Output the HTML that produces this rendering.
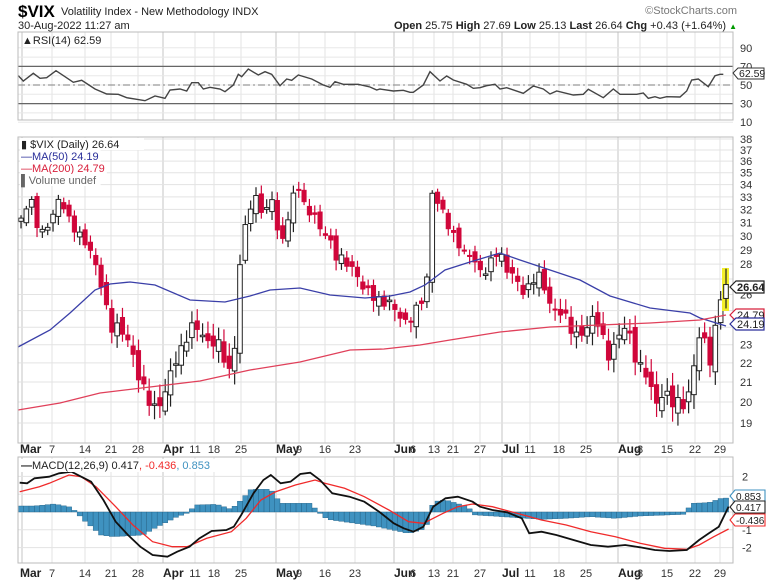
<!DOCTYPE html>
<html><head><meta charset="utf-8"><style>
body{margin:0;background:#fff;}
svg{display:block;font-family:"Liberation Sans",sans-serif;}
</style></head><body>
<svg id="s" width="768" height="583" viewBox="0 0 768 583" xmlns="http://www.w3.org/2000/svg">
<rect width="768" height="583" fill="#fff"/>
<g id="grid"></g>
<g id="content"></g>
<text x="18" y="17" font-size="17" font-weight="bold" fill="#000">$VIX</text>
<text x="61" y="15" font-size="11" fill="#222">Volatility Index - New Methodology  INDX</text>
<text x="737" y="14" font-size="11" fill="#777" text-anchor="end">©StockCharts.com</text>
<text x="18" y="29" font-size="11" fill="#222">30-Aug-2022 11:27 am</text>
<text x="737" y="29" font-size="11" fill="#222" text-anchor="end"><tspan font-weight="bold">Open</tspan> 25.75 <tspan font-weight="bold">High</tspan> 27.69 <tspan font-weight="bold">Low</tspan> 25.13 <tspan font-weight="bold">Last</tspan> 26.64 <tspan font-weight="bold">Chg</tspan> +0.43 (+1.64%) <tspan fill="#090" font-size="8">▲</tspan></text>
</svg>
<script>
(function(){
var NS="http://www.w3.org/2000/svg",g=document.getElementById('grid'),c=document.getElementById('content');
function el(p,t,a,txt){var e=document.createElementNS(NS,t);for(var k in a)e.setAttribute(k,a[k]);if(txt!=null)e.textContent=txt;p.appendChild(e);return e;}
function interp(pts,x){if(x<=pts[0][0])return pts[0][1];for(var i=1;i<pts.length;i++){if(x<=pts[i][0]){var a=pts[i-1],b=pts[i];return a[1]+(b[1]-a[1])*(x-a[0])/(b[0]-a[0]);}}return pts[pts.length-1][1];}
function poly(pts){return pts.map(function(p){return p[0].toFixed(1)+","+p[1].toFixed(1)}).join(" ");}
var L=18,R=733;
var panels=[[32,120],[137,443],[457,563]];
var weeks=[[52,'7'],[85,'14'],[111,'21'],[138,'28'],[195,'11'],[214,'18'],[241,'25'],[299,'9'],[325,'16'],[355,'23'],[413,'6'],[434,'13'],[453,'21'],[480,'27'],[530,'11'],[559,'18'],[586,'25'],[640,'8'],[667,'15'],[695,'22'],[720,'29']];
var months=[[22,'Mar'],[163,'Apr'],[276,'May'],[394,'Jun'],[502,'Jul'],[618,'Aug']];
panels.forEach(function(p){
 weeks.forEach(function(w){el(g,'line',{x1:w[0],x2:w[0],y1:p[0],y2:p[1],stroke:'#e3e3e3','stroke-width':1});});
 months.forEach(function(w){el(g,'line',{x1:w[0],x2:w[0],y1:p[0],y2:p[1],stroke:'#c4c4c4','stroke-width':1});});
});
function ry(v){return 85-(v-50)*0.93;}
for(var v=10;v<=90;v+=10){el(g,'line',{x1:L,x2:R,y1:ry(v),y2:ry(v),stroke:'#e8e8e8'});}
el(c,'line',{x1:L,x2:R,y1:ry(70),y2:ry(70),stroke:'#666','stroke-width':1.2});
el(c,'line',{x1:L,x2:R,y1:ry(30),y2:ry(30),stroke:'#666','stroke-width':1.2});
el(c,'line',{x1:L,x2:R,y1:ry(50),y2:ry(50),stroke:'#999','stroke-width':1.2,'stroke-dasharray':'7,3,2,3'});
var r6=[[55,62],[70,78],[100,55],[120,70],[140,68],[168,47],[195,65],[220,82],[245,76],[285,102],[320,117],[355,118],[380,128],[410,133],[435,137],[465,123],[495,130],[510,105],[540,102],[560,108],[575,83],[595,83],[610,102],[630,97],[660,102],[675,110],[700,90],[715,58],[725,65],[745,42],[775,60],[795,50],[815,58],[840,92],[860,72],[875,76],[895,60],[935,72],[970,90],[990,97],[1005,80],[1030,88],[1075,88],[1110,96],[1130,105]];
var r7=[[30,102],[70,108],[100,106],[120,112],[130,112],[160,90],[180,50],[210,78],[230,63],[250,75],[290,88],[310,100],[330,98],[350,92],[375,88],[390,102],[410,98],[460,115],[490,93],[520,102],[540,117],[560,108],[610,120],[640,118],[655,103],[700,128],[730,102],[750,118],[800,118],[820,114],[835,130],[855,125],[870,130],[890,125],[930,126],[950,108],[965,75],[985,72],[1015,95],[1035,62],[1050,58],[1060,58]];
var rp=r6.map(function(p){return [p[0]/3,55+p[1]/3]}).concat(r7.map(function(p){return [370+p[0]/3,55+p[1]/3]}));
el(c,'polyline',{points:poly(rp),fill:'none',stroke:'#444','stroke-width':1.4});
[90,70,50,30,10].forEach(function(a){el(c,'text',{x:740,y:ry(a)+4,'font-size':11,fill:'#333'},a);});
el(c,'rect',{x:L,y:32,width:R-L,height:88,fill:'none',stroke:'#bbb'});
el(c,'text',{x:22,y:44,'font-size':11,fill:'#222'},'\u25B2RSI(14) 62.59');
el(c,'path',{d:'M733,73 l5,-5 h26 v11 h-26 z',fill:'#fff',stroke:'#333'});
el(c,'text',{x:739,y:77,'font-size':10.5,fill:'#222'},'62.59');
function py(p){return 423-409.7*Math.log(p/19);}
for(var p=19;p<=38;p++){el(g,'line',{x1:L,x2:R,y1:py(p),y2:py(p),stroke:'#e3e3e3'});if(p!==25&&p!==24&&p!==27)el(c,'text',{x:740,y:py(p)+4,'font-size':11,fill:'#333'},p);}
var anc=[[20,31],[30,33],[40,30],[50,31],[60,33],[70,31],[80,30],[90,29],[100,27],[110,24],[120,24],[130,23],[140,21],[145,20.5],[155,19.6],[165,20.4],[172,21.8],[180,22.5],[187,23.5],[195,24.3],[205,23.2],[220,23],[230,21.3],[236,23.5],[241,29],[247,31.5],[255,33],[265,31.5],[272,33],[280,29],[287,31],[293,33],[300,34],[306,31.5],[312,32],[320,30.5],[328,30],[335,28.6],[345,28.2],[355,27.5],[362,26.5],[372,26],[380,25.5],[390,25.5],[398,24.8],[406,24.2],[413,24.8],[420,25.3],[427,27],[431,33.5],[438,32.5],[445,31.5],[451,30.2],[458,29.5],[466,28.5],[472,28.7],[480,27.4],[488,27.7],[495,28.7],[500,29],[505,27.5],[512,27.5],[520,26.3],[527,26.2],[533,27],[540,27.3],[547,25.8],[555,24.9],[562,25],[570,24],[578,23.4],[585,23.8],[592,24.5],[598,24.3],[604,23.1],[610,22.2],[617,23.3],[622,24.1],[629,23.7],[636,22.1],[642,21.6],[648,21.5],[653,20],[660,20.1],[666,20.5],[672,20],[680,19.9],[686,20],[690,20.4],[695,22.4],[702,24],[708,22.3],[713,21.8],[717,25.3],[722,26.2],[726,26.64]];
var N=132,prev=31;
for(var n=0;n<=N;n++){var x=21+n*(705/N),i=n+1;
 var cl=interp(anc,x)+0.3*Math.sin(i*2.7);
 var op=prev+0.35*Math.sin(i*1.9+1);
 var hi=Math.max(op,cl)+0.2+0.5*Math.abs(Math.sin(i*3.1)),lo=Math.min(op,cl)-0.2-0.5*Math.abs(Math.cos(i*2.3));
 if(n==N){cl=26.64;op=25.75;hi=27.69;lo=25.13;el(c,'rect',{x:722,y:268,width:7,height:43,fill:'#f2ee2a'});}
 var up=cl>=op,col=up?'#222':'#d0063a';
 el(c,'line',{x1:x,x2:x,y1:py(hi),y2:py(lo),stroke:col,'stroke-width':1.2});
 var t=py(Math.max(op,cl)),b=py(Math.min(op,cl));if(b-t<1.5)b=t+1.5;
 el(c,'rect',{x:x-2.3,y:t,width:4.6,height:b-t,fill:up?'#fff':'#d0063a',stroke:col,'stroke-width':up?1:0.5});
 prev=cl;}
var ma50=[[18,347],[50,330],[70,313],[95,290],[110,284],[130,282],[155,285],[190,300],[225,302],[250,296],[270,290],[300,288],[330,295],[365,298],[390,296],[410,292],[425,285],[445,270],[470,262],[500,253],[520,260],[550,270],[580,280],[610,296],[650,308],[690,313],[700,318],[726,326]];
var ma200=[[18,410],[60,403],[100,393],[150,387],[200,381],[250,370],[300,362],[350,350],[384,349],[420,345],[450,340],[500,332],[550,327],[600,325],[650,323],[700,320],[726,315]];
el(c,'polyline',{points:poly(ma50),fill:'none',stroke:'#3a3fa8','stroke-width':1.3});
el(c,'polyline',{points:poly(ma200),fill:'none',stroke:'#e0405a','stroke-width':1.3});
el(c,'rect',{x:L,y:137,width:R-L,height:306,fill:'none',stroke:'#bbb'});
var lg=[['\u25AE $VIX (Daily) 26.64','#222'],['\u2014MA(50) 24.19','#2a2f9a'],['\u2014MA(200) 24.79','#d8203c'],['\u258CVolume undef','#666']];
lg.forEach(function(a,k){el(c,'rect',{x:20,y:138+k*12,width:a[0].length*6.2,height:12,fill:'#fff'});el(c,'text',{x:21,y:148+k*12,'font-size':11,fill:a[1]},a[0]);});
function tag(y,txt,col,bold){el(c,'path',{d:'M730,'+y+' l6,-6 h28 v12 h-28 z',fill:'#fff',stroke:col,'stroke-width':1.2});el(c,'text',{x:737,y:y+4,'font-size':11,fill:'#222','font-weight':bold?'bold':'normal'},txt);}
tag(287,'26.64','#222',true);tag(315,'24.79','#d8203c');tag(324,'24.19','#2a2f9a');
function dates(y){months.forEach(function(m){el(c,'text',{x:m[0]+(m[1]=='Mar'?-2:0),y:y,'font-size':12,'font-weight':'bold',fill:'#222'},m[1]);});
 weeks.forEach(function(w){el(c,'text',{x:w[0],y:y,'font-size':11,fill:'#333','text-anchor':'middle'},w[1]);});}
dates(453);dates(577);
function my(v){return 512-17.8*v;}
[-2,-1,0,1,2].forEach(function(v){el(g,'line',{x1:L,x2:R,y1:my(v),y2:my(v),stroke:'#e3e3e3'});});
var hz=[[40,168],[70,168],[110,162],[145,172],[155,187],[170,210],[205,255],[230,260],[290,255],[320,230],[360,200],[385,187],[395,165],[440,163],[470,178],[490,150],[510,118],[550,118],[570,160],[630,160],[650,190],[665,208],[760,228],[830,250],[865,235],[880,155],[905,150],[950,170],[965,195],[1000,198],[1100,208],[1150,205],[1200,200],[1250,205],[1300,198],[1390,193],[1405,160],[1440,158],[1465,145],[1490,143]];
var sx=768/1560;
var hzs=hz.map(function(p){return[p[0]*sx,p[1]]});
for(var n=0;n<=N;n++){var x=21+n*(705/N);var zy=interp(hzs,x);var yy=450+zy/3;var t=Math.min(yy,512),h=Math.abs(yy-512);
 el(c,'rect',{x:x-2.6,y:t,width:5.2,height:Math.max(h,0.5),fill:'#3f92c0',stroke:'#1f5f85','stroke-width':0.4});}
var mb=[[40,98],[55,100],[70,85],[100,80],[120,70],[145,65],[165,80],[185,95],[210,150],[235,215],[260,255],[285,290],[310,315],[340,320],[360,305],[385,290],[405,265],[430,243],[460,240],[475,230],[490,195],[515,130],[535,90],[550,75],[570,100],[590,95],[610,72],[630,68],[650,90],[675,130],[710,140],[740,155],[770,185],[800,220],[820,235],[840,245],[860,230],[880,170],[905,145],[930,140],[960,155],[975,170],[1000,180],[1030,187],[1060,205],[1075,250],[1100,245],[1130,255],[1165,270],[1200,285],[1235,290],[1270,285],[1300,292],[1330,300],[1360,303],[1395,300],[1420,270],[1440,250],[1460,230],[1480,170]];
var mr=[[40,125],[80,110],[100,100],[140,75],[165,80],[195,110],[235,170],[270,225],[310,275],[350,290],[380,290],[420,265],[470,245],[500,205],[530,150],[560,125],[600,105],[640,90],[660,100],[700,115],[740,140],[790,180],[830,215],[860,220],[900,190],[930,170],[960,162],[1000,170],[1050,190],[1100,210],[1150,225],[1200,245],[1250,260],[1300,280],[1350,295],[1395,298],[1420,285],[1450,260],[1480,237]];
function cv(a){return a.map(function(p){return[p[0]*sx,450+p[1]/3]});}
el(c,'polyline',{points:poly(cv(mr)),fill:'none',stroke:'#f02a2a','stroke-width':1.3});
el(c,'polyline',{points:poly(cv(mb)),fill:'none',stroke:'#111','stroke-width':1.8});
el(c,'rect',{x:L,y:457,width:R-L,height:106,fill:'none',stroke:'#bbb'});
[[2,'2'],[1,'1'],[-1,'-1'],[-2,'-2']].forEach(function(a){el(c,'text',{x:742,y:my(a[0])+4,'font-size':11,fill:'#333'},a[1]);});
el(c,'rect',{x:20,y:459,width:195,height:13,fill:'#fff'});
var tx=el(c,'text',{x:21,y:469,'font-size':11,fill:'#222'});
el(tx,'tspan',{'font-weight':'bold'},'\u2014');el(tx,'tspan',{},'MACD(12,26,9) 0.417');el(tx,'tspan',{fill:'#f02a2a'},', -0.436');el(tx,'tspan',{fill:'#3f92c0'},', 0.853');
function tag2(y,txt,col){el(c,'path',{d:'M730,'+y+' l5,-6 h30 v12 h-30 z',fill:'#fff',stroke:col,'stroke-width':1.1});el(c,'text',{x:736,y:y+4,'font-size':10,fill:'#222'},txt);}
tag2(496,'0.853','#3f92c0');tag2(507,'0.417','#222');tag2(520,'-0.436','#f02a2a');
})();
</script>
</body></html>
